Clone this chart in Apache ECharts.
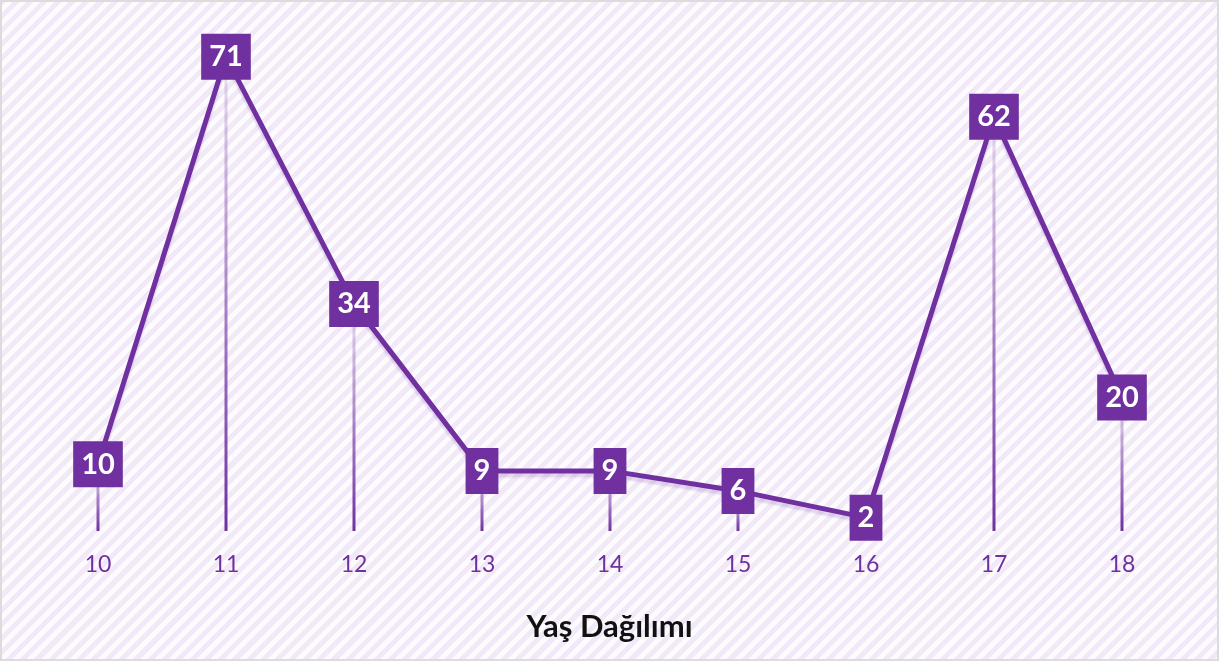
<!DOCTYPE html>
<html>
<head>
<meta charset="utf-8">
<script src="https://cdn.jsdelivr.net/npm/echarts@6/dist/echarts.min.js"></script>
<style>
  html, body { margin: 0; padding: 0; }
  #chart {
    width: 1219px;
    height: 661px;
    background: repeating-linear-gradient(135deg, #f1e9f8 0 5px, #fdfbfe 5px 10px);
    box-shadow: inset 0 0 0 2px #dcdcdc;
  }
</style>
</head>
<body>
<div id="chart"></div>
<script>
const purple = '#7030a0'

// yaş kategorileri ve kişi sayıları
const ages = ['10', '11', '12', '13', '14', '15', '16', '17', '18']
const counts = [10, 71, 34, 9, 9, 6, 2, 62, 20]

const chart = echarts.init(document.getElementById('chart'))

chart.setOption({
  animation: false,
  textStyle: { fontFamily: 'Lato' },
  title: {
    text: 'Yaş Dağılımı',
    left: 'center',
    top: 606,
    textStyle: {
      color: '#111111',
      fontSize: 31,
      fontWeight: 'bold',
      fontFamily: 'Lato'
    }
  },
  grid: {
    left: 34,
    right: 33,
    top: 30,
    bottom: 130
  },
  xAxis: {
    type: 'category',
    data: ages,
    axisLine: { show: false },
    axisTick: { show: false },
    splitLine: { show: false },
    axisLabel: {
      color: purple,
      fontSize: 23,
      margin: 22,
      fontFamily: 'Lato'
    }
  },
  yAxis: {
    type: 'value',
    min: 0,
    max: 75,
    show: false
  },
  series: [
    {
      // değerden eksene inen ince çizgiler
      type: 'bar',
      data: counts,
      barWidth: 3,
      z: 1,
      silent: true,
      itemStyle: {
        color: {
          type: 'linear',
          x: 0, y: 0, x2: 0, y2: 1,
          colorStops: [
            { offset: 0, color: 'rgba(112, 48, 160, 0.12)' },
            { offset: 1, color: purple }
          ]
        }
      }
    },
    {
      type: 'line',
      data: counts,
      z: 3,
      symbol: 'rect',
      symbolSize: 2,
      itemStyle: { color: purple },
      lineStyle: {
        color: purple,
        width: 5,
        shadowColor: 'rgba(112, 48, 160, 0.18)',
        shadowBlur: 2,
        shadowOffsetY: 4
      },
      label: {
        show: true,
        position: 'inside',
        formatter: '{c}',
        color: '#ffffff',
        fontSize: 29,
        fontWeight: 'bold',
        fontFamily: 'Lato',
        lineHeight: 26,
        backgroundColor: purple,
        padding: [10, 8, 10, 8]
      },
      emphasis: { disabled: true }
    }
  ]
})
</script>
</body>
</html>
